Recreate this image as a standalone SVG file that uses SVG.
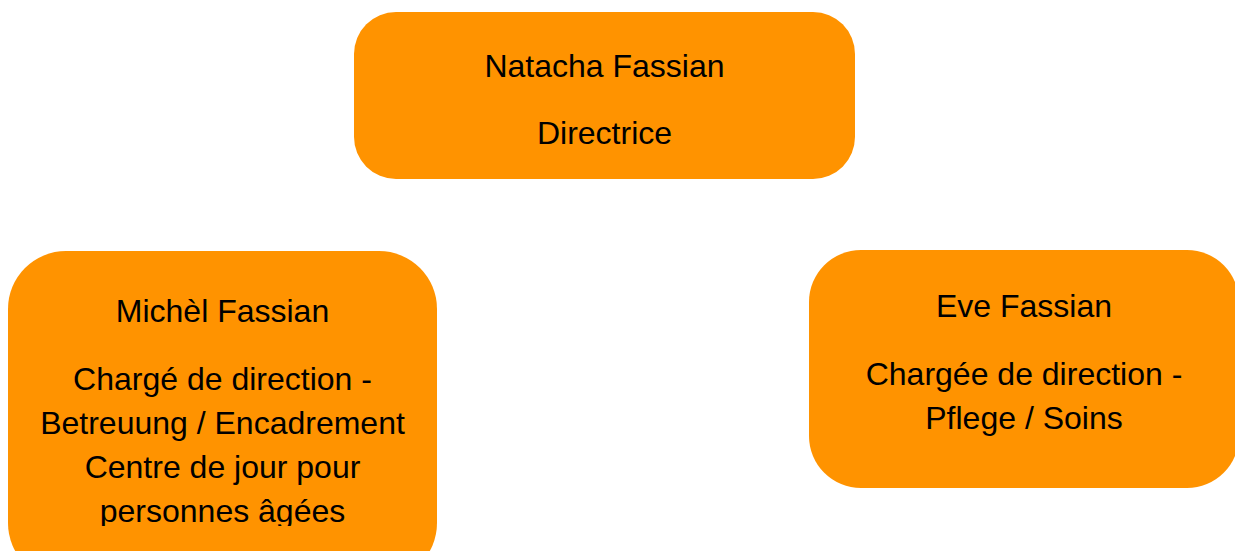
<svg xmlns="http://www.w3.org/2000/svg" width="1235" height="551" viewBox="0 0 1235 551">
<style>
.box{fill:#ff9300;stroke:none}
.t{font-family:"Liberation Sans",Arial,sans-serif;font-size:32px;fill:#000;text-anchor:middle}
</style>
<defs>
<clipPath id="clipL"><rect x="8" y="251" width="430" height="275"/></clipPath>
</defs>
<rect width="1235" height="551" fill="#fff"/>
<g id="connectors"></g>
<g id="node-natacha">
<rect class="box" x="354" y="12" width="501" height="167" rx="42" ry="42"/>
<text class="t" x="604.5" y="77">Natacha Fassian</text>
<text class="t" x="604.5" y="144">Directrice</text>
</g>
<g id="node-michel">
<rect class="box" x="8" y="251" width="429" height="330" rx="58" ry="58"/>
<g clip-path="url(#clipL)">
<text class="t" x="222.5" y="322">Michèl Fassian</text>
<text class="t" x="222.5" y="390">Chargé de direction -</text>
<text class="t" x="222.5" y="434">Betreuung / Encadrement</text>
<text class="t" x="222.5" y="478">Centre de jour pour</text>
<text class="t" x="222.5" y="522">personnes âgées</text>
</g>
</g>
<g id="node-eve">
<rect class="box" x="809" y="250" width="430" height="238" rx="52" ry="52"/>
<text class="t" x="1024" y="317">Eve Fassian</text>
<text class="t" x="1024" y="385">Chargée de direction -</text>
<text class="t" x="1024" y="429">Pflege / Soins</text>
</g>
</svg>
